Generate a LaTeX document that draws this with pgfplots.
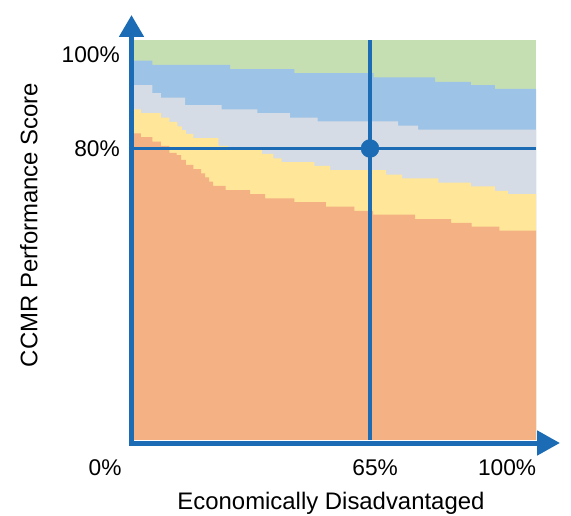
\documentclass[border=0pt]{standalone}
\usepackage{pgfplots}
\pgfplotsset{compat=1.18}
\usepackage{pgfplotstable}
\usepackage{fontspec}
\setmainfont{Liberation Sans}
\usetikzlibrary{arrows.meta}

\definecolor{bgreen}{HTML}{C5DFB3}
\definecolor{bblue}{HTML}{9DC3E6}
\definecolor{bgray}{HTML}{D6DCE5}
\definecolor{byellow}{HTML}{FFE699}
\definecolor{borange}{HTML}{F4B183}
\definecolor{lineblue}{HTML}{1B6CB4}

% upper edge of each band (const steps, value held to the right)
\pgfplotstableread{
x y
0 96.2
4.6 95.4
23.9 94.65
39.9 93.9
59.6 93.1
74.9 92.3
83.8 91.7
89.8 91.0
100 91.0
}\edgeblue
\pgfplotstableread{
x y
0 91.7
4.6 90.2
6.7 89.4
12.7 88.0
21.8 87.2
30.7 86.5
38.8 85.7
45.7 85.0
65.7 84.2
70.7 83.5
100 83.5
}\edgegray
\pgfplotstableread{
x y
0 87.2
1.7 86.5
6.7 85.7
8.8 84.9
10.8 84.1
11.9 83.4
12.9 82.7
14.8 81.9
21.0 80.5
23.4 79.7
31.8 79.0
34.7 78.2
36.7 77.5
44.9 76.8
48.8 76.0
62.7 75.2
66.7 74.5
75.7 73.7
83.8 73.0
89.8 72.2
93.0 71.6
100 71.6
}\edgeyellow
\pgfplotstableread{
x y
0 82.8
1.7 82.1
4.6 81.25
6.7 80.5
8.8 79.2
10.6 78.8
11.7 77.9
12.9 77.0
14.8 76.2
16.7 75.4
17.7 74.7
18.7 73.9
19.7 73.1
22.8 72.35
28.9 71.6
32.6 70.8
39.9 70.1
47.7 69.3
54.8 68.5
59.5 67.8
69.9 67.0
78.9 66.3
84.0 65.6
90.9 64.85
100 64.85
}\edgeorange

\begin{document}
\begin{tikzpicture}[font=\fontsize{22.8}{26}\selectfont]
\begin{axis}[
  at={(134bp,76bp)}, anchor=south west,
  scale only axis, width=402bp, height=400bp,
  xmin=0, xmax=100, ymin=26.27, ymax=100,
  axis line style={draw=none},
  major tick length=0pt,
  xtick=\empty,
  ytick={80,97.3}, yticklabels={80\%,100\%},
  yticklabel style={anchor=east, inner sep=0pt, xshift=-14bp},
  clip mode=individual,
]
\addplot[draw=none, fill=bgreen] coordinates {(0,100) (100,100)} \closedcycle;
\addplot[const plot, draw=none, fill=bblue] table {\edgeblue} \closedcycle;
\addplot[const plot, draw=none, fill=bgray] table {\edgegray} \closedcycle;
\addplot[const plot, draw=none, fill=byellow] table {\edgeyellow} \closedcycle;
\addplot[const plot, draw=none, fill=borange] table {\edgeorange} \closedcycle;

% reference lines and point
\addplot[lineblue, line width=3.3bp] coordinates {(0,80) (100,80)};
\addplot[lineblue, line width=3.3bp] coordinates {(58.7,26.27) (58.7,100)};
\addplot[only marks, mark=*, mark size=9bp, lineblue] coordinates {(58.7,80)};

% axes with arrows
\draw[lineblue, line width=5bp, -{Triangle[width=24bp,length=22bp]}]
  ([xshift=-2.5bp,yshift=-5.5bp]rel axis cs:0,0) -- ([xshift=-2.5bp,yshift=25bp]rel axis cs:0,1);
\draw[lineblue, line width=5bp, -{Triangle[width=24bp,length=23bp]}]
  ([xshift=-5bp,yshift=-3bp]rel axis cs:0,0) -- ([xshift=24bp,yshift=-3bp]rel axis cs:1,0);

% x labels
\node[inner sep=0pt] at ([yshift=-27.5bp]rel axis cs:-0.072,0) {0\%};
\node[inner sep=0pt] at ([yshift=-27.5bp]rel axis cs:0.6,0) {65\%};
\node[inner sep=0pt] at ([yshift=-27.5bp]rel axis cs:0.928,0) {100\%};
\node[inner sep=0pt, anchor=base, font=\fontsize{24}{28}\selectfont]
  at ([yshift=-69.3bp]rel axis cs:0.49,0) {Economically Disadvantaged};
\node[inner sep=0pt, anchor=base, rotate=90, font=\fontsize{24}{28}\selectfont]
  at ([xshift=-96.7bp]rel axis cs:0,0.5375) {CCMR Performance Score};
\end{axis}
\pgfresetboundingbox
\path (0,0) rectangle (571bp,516bp);
\end{tikzpicture}
\end{document}
